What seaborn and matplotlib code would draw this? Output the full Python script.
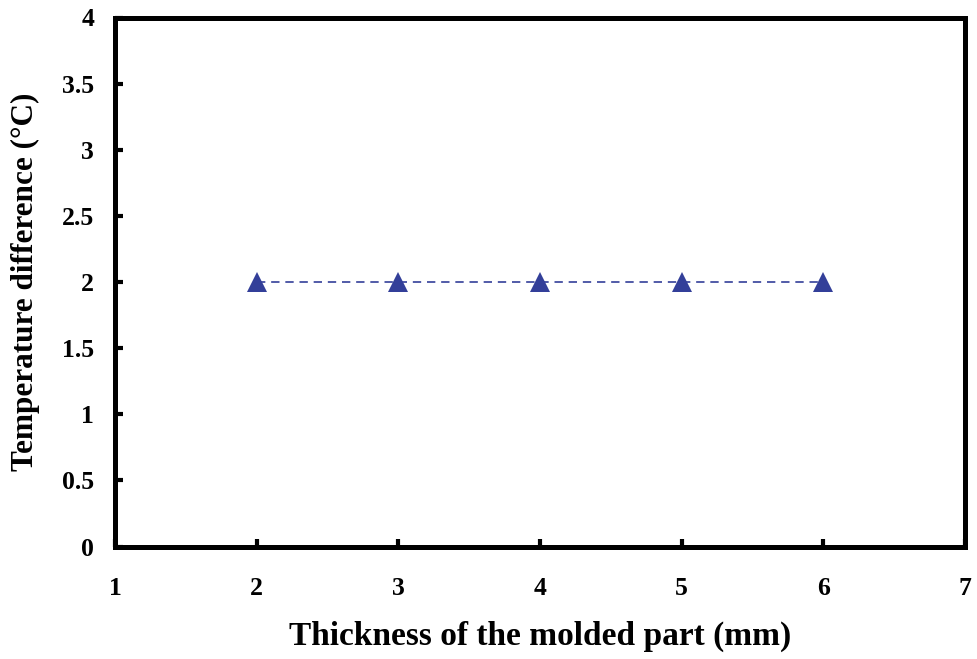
import matplotlib
matplotlib.use("Agg")
import matplotlib.pyplot as plt
import seaborn as sns
import pandas as pd

thickness = [2, 3, 4, 5, 6]
temp_diff = [2, 2, 2, 2, 2]
x_ticks = [1, 2, 3, 4, 5, 6, 7]
y_ticks = [0, 0.5, 1, 1.5, 2, 2.5, 3, 3.5, 4]
y_tick_labels = ["0", "0.5", "1", "1.5", "2", "2.5", "3", "3.5", "4"]

sns.set_style("ticks")
plt.rcParams['font.family'] = ['Liberation Serif', 'DejaVu Serif']
plt.rcParams['font.weight'] = 'bold'
plt.rcParams['text.color'] = 'black'
plt.rcParams['axes.labelcolor'] = 'black'
plt.rcParams['xtick.color'] = 'black'
plt.rcParams['ytick.color'] = 'black'

df = pd.DataFrame({"thickness": thickness, "temp": temp_diff})

fig = plt.figure(figsize=(9.78, 6.59), dpi=100)
ax = fig.add_axes([115/978, 1 - 546.5/659, 850/978, 529/659])

sns.lineplot(data=df, x="thickness", y="temp", ax=ax, color="#333F99",
             linestyle=(0, (5, 3.5)), linewidth=1.2, marker="^", markersize=15,
             markeredgewidth=0, markerfacecolor="#333F99")

ax.set_xlim(1, 7)
ax.set_ylim(0, 4)
ax.set_xticks(x_ticks)
ax.set_yticks(y_ticks)
ax.set_yticklabels(y_tick_labels)
for s in ax.spines.values():
    s.set_visible(True)
    s.set_linewidth(3.6)
    s.set_color("black")
ax.tick_params(direction="in", length=6, width=3, labelsize=18.5, colors="black")
ax.tick_params(axis="x", pad=22)
ax.tick_params(axis="y", pad=15)
for lab in ax.get_xticklabels() + ax.get_yticklabels():
    lab.set_fontweight("bold")
ax.set_xlabel("Thickness of the molded part (mm)", fontsize=24, fontweight="bold", color="black")
ax.set_ylabel("Temperature difference (°C)", fontsize=22.5, fontweight="bold", color="black")
ax.xaxis.set_label_coords(0.5, -0.14)
ax.yaxis.set_label_coords(-0.088, 0.5)

fig.savefig("out.png", dpi=100)
